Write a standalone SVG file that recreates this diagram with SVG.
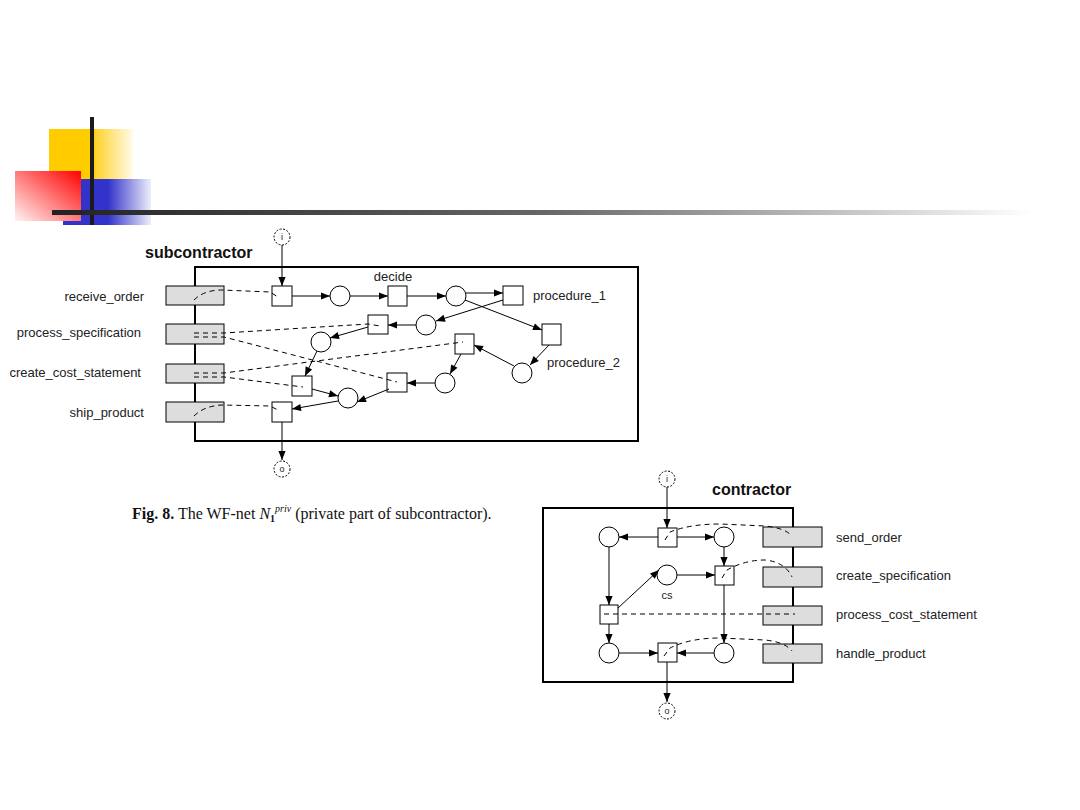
<svg xmlns="http://www.w3.org/2000/svg" width="1080" height="810" viewBox="0 0 1080 810">
<defs>
<linearGradient id="gy" x1="0" y1="0" x2="1" y2="0"><stop offset="0" stop-color="#FFD22A"/><stop offset="1" stop-color="#FFFBEA"/></linearGradient>
<linearGradient id="gb" x1="0" y1="0" x2="1" y2="0"><stop offset="0" stop-color="#3333CC"/><stop offset="1" stop-color="#EEEEFB"/></linearGradient>
<linearGradient id="gr" x1="1" y1="0" x2="0" y2="1"><stop offset="0" stop-color="#FF0000"/><stop offset="1" stop-color="#FFF4F4"/></linearGradient>
<linearGradient id="gl" x1="0" y1="0" x2="1" y2="0"><stop offset="0" stop-color="#222"/><stop offset="0.5" stop-color="#666"/><stop offset="1" stop-color="#fff"/></linearGradient>
<marker id="ah" viewBox="0 0 10 10" refX="10" refY="5" markerWidth="10" markerHeight="9" markerUnits="userSpaceOnUse" orient="auto"><path d="M0,1 L10,5 L0,9 z" fill="#000"/></marker>
</defs>
<style>
.pl{fill:#fff;stroke:#000;stroke-width:1}
.io{fill:#fff;stroke:#000;stroke-width:1;stroke-dasharray:2,1.5}
.tr{fill:#fff;stroke:#000;stroke-width:1}
.gr{fill:#ddd;stroke:#000;stroke-width:1}
.bx{fill:#fff;stroke:#000;stroke-width:2}
.arc{fill:none;stroke:#000;stroke-width:1;marker-end:url(#ah)}
.ds{fill:none;stroke:#000;stroke-width:1;stroke-dasharray:5,4}
.lb{font-family:"Liberation Sans",Arial,sans-serif;font-size:13px;fill:#222}
.tt{font-family:"Liberation Sans",Arial,sans-serif;font-size:16px;font-weight:bold;fill:#111}
.sm{font-family:"Liberation Sans",Arial,sans-serif;font-size:9px;fill:#222}
.cs{font-family:"Liberation Sans",Arial,sans-serif;font-size:11px;fill:#222}
.cap{font-family:"Liberation Serif","Times New Roman",serif;font-size:16px;fill:#111}
</style>
<rect width="1080" height="810" fill="#fff"/>
<g id="logo">
<rect x="49" y="129" width="46" height="50" fill="#FFCC00"/>
<rect x="95" y="129" width="38" height="50" fill="url(#gy)"/>
<rect x="63" y="179" width="45" height="46" fill="#3333CC"/>
<rect x="108" y="179" width="43" height="46" fill="url(#gb)"/>
<rect x="15" y="171" width="66" height="50" fill="url(#gr)"/>
<rect x="90" y="117" width="4" height="108" fill="#1a1a1a"/>
<rect x="52" y="210" width="980" height="5" fill="url(#gl)"/>
</g>
<g id="subcontractor">
<text class="tt" x="145" y="258">subcontractor</text>
<rect class="bx" x="195" y="267" width="443" height="174"/>
</g>
<g id="sub-interface">
<rect class="gr" x="166" y="286" width="58" height="19"/>
<rect class="gr" x="166" y="324" width="58" height="20"/>
<rect class="gr" x="166" y="364" width="58" height="19"/>
<rect class="gr" x="166" y="402" width="58" height="20"/>
<text class="lb" x="144" y="301" text-anchor="end">receive_order</text>
<text class="lb" x="141" y="337" text-anchor="end">process_specification</text>
<text class="lb" x="141" y="377" text-anchor="end">create_cost_statement</text>
<text class="lb" x="144" y="417" text-anchor="end">ship_product</text>
</g>
<g id="sub-nodes">
<circle class="io" cx="282" cy="237" r="8"/><text class="sm" x="282" y="240" text-anchor="middle">i</text>
<circle class="io" cx="282" cy="469" r="8"/><text class="sm" x="282" y="472" text-anchor="middle">o</text>
<rect class="tr" x="272" y="286" width="20" height="20"/>
<circle class="pl" cx="340" cy="296" r="10"/>
<rect class="tr" x="388" y="286" width="19" height="20"/>
<text class="lb" x="393" y="281" text-anchor="middle">decide</text>
<circle class="pl" cx="456" cy="296" r="10"/>
<rect class="tr" x="503" y="286" width="20" height="19"/>
<text class="lb" x="533" y="300">procedure_1</text>
<rect class="tr" x="542" y="324" width="19" height="21"/>
<text class="lb" x="547" y="367">procedure_2</text>
<circle class="pl" cx="522" cy="373" r="10"/>
<circle class="pl" cx="426" cy="325" r="10"/>
<rect class="tr" x="368" y="315" width="20" height="19"/>
<circle class="pl" cx="321" cy="342" r="10"/>
<rect class="tr" x="455" y="334" width="19" height="20"/>
<circle class="pl" cx="445" cy="383" r="10"/>
<rect class="tr" x="387" y="373" width="20" height="19"/>
<rect class="tr" x="292" y="376" width="20" height="20"/>
<circle class="pl" cx="348" cy="398" r="10"/>
<rect class="tr" x="272" y="402" width="20" height="20"/>
</g>
<g id="sub-connectors">
<path class="arc" d="M282,245 L282,286"/>
<path class="arc" d="M292,296 L330,296"/>
<path class="arc" d="M350,296 L388,296"/>
<path class="arc" d="M407,296 L446,296"/>
<path class="arc" d="M466,293 L503,293"/>
<path class="arc" d="M465,300 L542,330"/>
<path class="arc" d="M503,300 L436,321"/>
<path class="arc" d="M416,325 L388,325"/>
<path class="arc" d="M368,327 L330,338"/>
<path class="arc" d="M317,351 L305,376"/>
<path class="arc" d="M312,389 L338,396"/>
<path class="arc" d="M549,345 L530,365"/>
<path class="arc" d="M514,366 L474,345"/>
<path class="arc" d="M461,354 L450,374"/>
<path class="arc" d="M435,383 L407,383"/>
<path class="arc" d="M389,389 L357,402"/>
<path class="arc" d="M338,401 L292,409"/>
<path class="arc" d="M282,422 L282,460"/>
<path class="ds" d="M194,300 Q204,290 222,290 L270,292 L278,297"/>
<path class="ds" d="M194,333 L224,333 L368,324 L380,326"/>
<path class="ds" d="M194,337 L224,337 L397,382"/>
<path class="ds" d="M194,373 L224,373 L463,342"/>
<path class="ds" d="M194,377 L224,377 L303,387"/>
<path class="ds" d="M194,416 Q204,406 222,405 L270,406 L278,410"/>
</g>
<g id="caption">
<text class="cap" x="132" y="519"><tspan font-weight="bold">Fig. 8.</tspan> The WF-net <tspan font-style="italic">N</tspan><tspan font-size="10" font-weight="bold" dy="3">1</tspan><tspan font-size="10" font-style="italic" dy="-10">priv</tspan><tspan dy="7"> (private part of subcontractor).</tspan></text>
</g>
<g id="contractor">
<text class="tt" x="712" y="495">contractor</text>
<rect class="bx" x="543" y="508" width="250" height="174"/>
</g>
<g id="con-interface">
<rect class="gr" x="763" y="527" width="59" height="20"/>
<rect class="gr" x="763" y="567" width="59" height="20"/>
<rect class="gr" x="763" y="606" width="59" height="19"/>
<rect class="gr" x="763" y="644" width="59" height="19"/>
<text class="lb" x="836" y="542">send_order</text>
<text class="lb" x="836" y="580">create_specification</text>
<text class="lb" x="836" y="619">process_cost_statement</text>
<text class="lb" x="836" y="658">handle_product</text>
</g>
<g id="con-nodes">
<circle class="io" cx="667" cy="479" r="8"/><text class="sm" x="667" y="482" text-anchor="middle">i</text>
<circle class="io" cx="667" cy="711" r="8"/><text class="sm" x="667" y="714" text-anchor="middle">o</text>
<rect class="tr" x="658" y="528" width="19" height="19"/>
<circle class="pl" cx="609" cy="537" r="10"/>
<circle class="pl" cx="724" cy="537" r="10"/>
<rect class="tr" x="715" y="566" width="19" height="19"/>
<circle class="pl" cx="667" cy="575" r="10"/>
<text class="cs" x="667" y="599" text-anchor="middle">cs</text>
<rect class="tr" x="600" y="605" width="18" height="19"/>
<circle class="pl" cx="609" cy="653" r="10"/>
<rect class="tr" x="658" y="643" width="19" height="19"/>
<circle class="pl" cx="724" cy="653" r="10"/>
</g>
<g id="con-connectors">
<path class="arc" d="M667,487 L667,528"/>
<path class="arc" d="M658,537 L619,537"/>
<path class="arc" d="M677,537 L714,537"/>
<path class="arc" d="M724,547 L724,566"/>
<path class="arc" d="M609,547 L609,605"/>
<path class="arc" d="M618,608 L659,570"/>
<path class="arc" d="M677,575 L715,575"/>
<path class="arc" d="M609,624 L609,643"/>
<path class="arc" d="M724,585 L724,643"/>
<path class="arc" d="M619,653 L658,653"/>
<path class="arc" d="M714,653 L677,653"/>
<path class="arc" d="M667,662 L667,702"/>
<path class="ds" d="M665,540 L670,532 Q690,524 720,524 L765,526 Q785,528 792,536"/>
<path class="ds" d="M722,578 L727,570 Q745,560 765,560 Q785,562 792,577"/>
<path class="ds" d="M604,614 L795,614"/>
<path class="ds" d="M664,656 L670,648 Q690,638 720,638 L765,640 Q785,642 792,651"/>
</g>
</svg>
